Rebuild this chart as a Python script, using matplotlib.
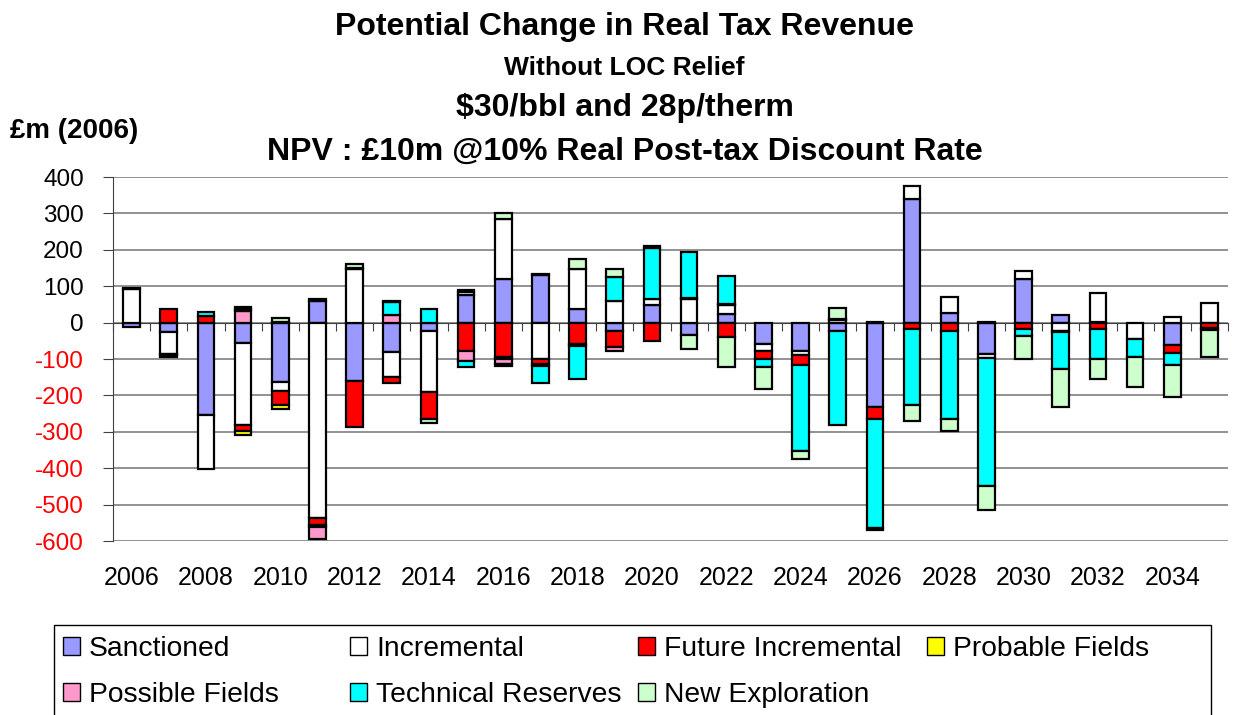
import numpy as np
import matplotlib
matplotlib.use("Agg")
import matplotlib.pyplot as plt
from matplotlib.patches import Patch, Rectangle

plt.rcParams['font.family'] = ['Liberation Sans', 'DejaVu Sans']
plt.rcParams['axes.unicode_minus'] = False

years = list(range(2006, 2036))

sanctioned = [-11, -27, -254, -55, -162, 59, -160, -82, -22, 76,
              120, 130, 37, -22, 48, -33, 24, -60, -77, -23,
              -233, 339, 26, -87, 121, 20, 3, 0, -61, 0]
incremental = [92, -59, -149, -226, -25, -536, 146, -68, -170, 8,
               164, -100, 110, 59, 17, 64, 24, -18, -12, 8,
               3, 35, 45, -11, 22, -22, 79, -46, 16, 55]
future_incremental = [4, 37, 19, -16, -39, -20, -127, -17, -73, -79,
                      -94, -15, -60, -44, -51, 3, -40, -21, -28, 3,
                      -32, -18, -23, 3, -17, -4, -17, 0, -23, -16]
probable = [0, -4, 0, -12, -11, -5, 0, 0, 0, 0,
            -5, 0, 0, 0, 0, 0, 3, 0, 0, 0,
            0, 0, 0, 0, 0, 0, 0, 0, 0, 0]
possible = [0, -5, 0, 31, 0, -33, 0, 20, 0, -26,
            -14, -4, -4, -12, 0, 0, 0, 0, 0, 0,
            0, 0, 0, 0, 0, 0, 0, 0, 0, 0]
technical = [0, 0, 10, 5, 3, 5, 3, 37, 37, -17,
             -6, -47, -91, 66, 141, 128, 76, -22, -235, -258,
             -300, -209, -243, -352, -21, -101, -83, -49, -32, -4]
new_exploration = [0, 0, 0, 6, 11, 0, 12, 3, -11, 5,
                   18, 4, 27, 22, 4, -40, -82, -62, -23, 28,
                   -4, -42, -32, -66, -61, -105, -56, -82, -89, -75]

series = [
    ("Sanctioned", sanctioned, "#9999FF"),
    ("Incremental", incremental, "#FFFFFF"),
    ("Future Incremental", future_incremental, "#FF0000"),
    ("Probable Fields", probable, "#FFFF00"),
    ("Possible Fields", possible, "#FF99CC"),
    ("Technical Reserves", technical, "#00FFFF"),
    ("New Exploration", new_exploration, "#CCFFCC"),
]

fig = plt.figure(figsize=(12.37, 7.15), dpi=100)
ax = fig.add_axes([113 / 1237, 1 - 541 / 715, 1115 / 1237, 364 / 715])

x = np.arange(len(years))
pos_base = np.zeros(len(years))
neg_base = np.zeros(len(years))
handles = {}
for name, vals, color in series:
    v = np.array(vals, dtype=float)
    base = np.where(v >= 0, pos_base, neg_base)
    m = v != 0
    ax.bar(x[m], v[m], width=0.45, bottom=base[m], color=color,
           edgecolor="black", linewidth=1.6, zorder=3)
    pos_base += np.where(v > 0, v, 0)
    neg_base += np.where(v < 0, v, 0)
    handles[name] = Patch(facecolor=color, edgecolor="black", linewidth=1)

ax.set_xlim(-0.5, len(years) - 0.5)
ax.set_ylim(-600, 400)
ax.set_yticks(np.arange(-600, 401, 100))
ax.yaxis.grid(True, color="#7f7f7f", linewidth=1.2)
ax.set_axisbelow(True)
for lab, val in zip(ax.get_yticklabels(), np.arange(-600, 401, 100)):
    lab.set_color("red" if val < 0 else "black")
ax.tick_params(axis="y", labelsize=17.5, length=7, pad=14, color="#404040")

# category axis crosses at zero, tick marks between categories
for s in ["top", "right"]:
    ax.spines[s].set_visible(False)
ax.spines["bottom"].set_position(("data", 0))
ax.spines["bottom"].set_color("#404040")
ax.spines["left"].set_color("#404040")
ax.set_xticks(np.arange(-0.5, len(years), 1))
ax.set_xticklabels([])
ax.tick_params(axis="x", length=6, direction="out", color="#404040")

sec = ax.secondary_xaxis("bottom")
sec.set_xticks(x[::2], [str(y) for y in years[::2]])
sec.tick_params(length=0, pad=18, labelsize=18)
sec.spines["bottom"].set_visible(False)

fig.text(0.505, 1 - 35 / 715, "Potential Change in Real Tax Revenue",
         ha="center", va="baseline", fontsize=23, fontweight="bold")
fig.text(0.505, 1 - 75 / 715, "Without LOC Relief",
         ha="center", va="baseline", fontsize=19, fontweight="bold")
fig.text(0.505, 1 - 116 / 715, "$30/bbl and 28p/therm",
         ha="center", va="baseline", fontsize=23, fontweight="bold")
fig.text(0.505, 1 - 160 / 715, "NPV : £10m @10% Real Post-tax Discount Rate",
         ha="center", va="baseline", fontsize=23, fontweight="bold")
fig.text(10 / 1237, 1 - 138 / 715, "£m (2006)",
         ha="left", va="baseline", fontsize=20, fontweight="bold")

# legend: Excel-style equal columns, drawn as four one-column legends
columns = [["Sanctioned", "Possible Fields"],
           ["Incremental", "Technical Reserves"],
           ["Future Incremental", "New Exploration"],
           ["Probable Fields"]]
col_x = [63, 350, 638, 927]
for cx, names in zip(col_x, columns):
    fig.legend([handles[n] for n in names], names, loc="upper left",
               bbox_to_anchor=(cx / 1237, 1 - 636 / 715), frameon=False,
               borderpad=0, borderaxespad=0, handlelength=0.62,
               handleheight=0.62, handletextpad=0.3, labelspacing=0.7,
               fontsize=20.3)
fig.add_artist(Rectangle((54 / 1237, -0.1), (1211 - 54) / 1237,
                         0.1 + 1 - 625 / 715, transform=fig.transFigure,
                         fill=False, edgecolor="black", linewidth=1))

fig.savefig("out.png", dpi=100)
